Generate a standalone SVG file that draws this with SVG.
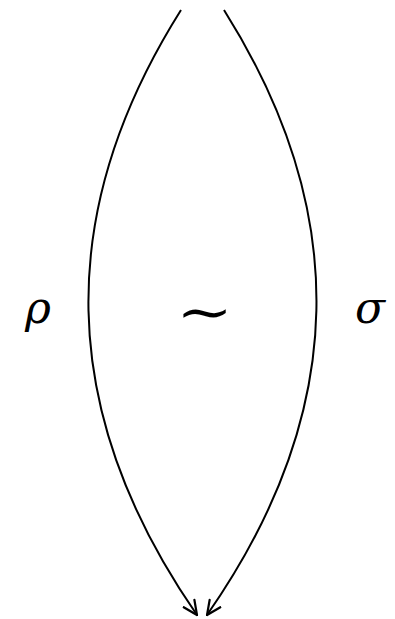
<svg xmlns="http://www.w3.org/2000/svg" width="395" height="619" viewBox="0 0 395 619">
<style>
.edge{fill:none;stroke:#000;stroke-width:2}
.lbl{font-family:"DejaVu Serif","Liberation Serif",serif;fill:#000}
.it{font-style:italic;font-size:44px}
.op{font-size:52px}
</style>
<defs>
<marker id="ah" viewBox="0 0 16 16" refX="15" refY="8" markerWidth="16" markerHeight="16" markerUnits="userSpaceOnUse" orient="auto">
<path d="M1,1.5 L15,8 L1,14.5" fill="none" stroke="#000" stroke-width="2.2" stroke-linecap="round"/>
</marker>
</defs>
<rect width="395" height="619" fill="#fff"/>
<g id="connectors">
<path class="edge" d="M181,10 C55,210 55,410 197,615" marker-end="url(#ah)"/>
<path class="edge" d="M224,10 C350,210 350,410 207,615" marker-end="url(#ah)"/>
</g>
<g id="rho"><text class="lbl it" x="38" y="323" text-anchor="middle">ρ</text></g>
<g id="sim"><text class="lbl op" x="0" y="0" text-anchor="middle" transform="translate(204.5,330) scale(1.3,1)">∼</text></g>
<g id="sigma"><text class="lbl it" x="370" y="323" text-anchor="middle">σ</text></g>
</svg>
